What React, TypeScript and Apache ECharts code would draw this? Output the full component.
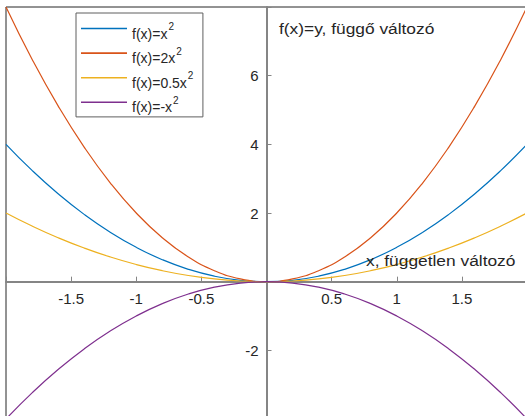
import React, { useEffect, useRef } from "react";
import * as echarts from "echarts";

const xValues = [-2, -1.8, -1.6, -1.4, -1.2, -1, -0.8, -0.6, -0.4, -0.2, 0, 0.2, 0.4, 0.6, 0.8, 1, 1.2, 1.4, 1.6, 1.8, 2];
const ySquare = [4, 3.24, 2.56, 1.96, 1.44, 1, 0.64, 0.36, 0.16, 0.04, 0, 0.04, 0.16, 0.36, 0.64, 1, 1.44, 1.96, 2.56, 3.24, 4];
const yDouble = [8, 6.48, 5.12, 3.92, 2.88, 2, 1.28, 0.72, 0.32, 0.08, 0, 0.08, 0.32, 0.72, 1.28, 2, 2.88, 3.92, 5.12, 6.48, 8];
const yHalf = [2, 1.62, 1.28, 0.98, 0.72, 0.5, 0.32, 0.18, 0.08, 0.02, 0, 0.02, 0.08, 0.18, 0.32, 0.5, 0.72, 0.98, 1.28, 1.62, 2];
const yNeg = [-4, -3.24, -2.56, -1.96, -1.44, -1, -0.64, -0.36, -0.16, -0.04, 0, -0.04, -0.16, -0.36, -0.64, -1, -1.44, -1.96, -2.56, -3.24, -4];

const seriesNames = ["f(x)=x^2", "f(x)=2x^2", "f(x)=0.5x^2", "f(x)=-x^2"];
const seriesColors = ["#0072BD", "#D95319", "#EDB120", "#7E2F8E"];
const seriesValues = [ySquare, yDouble, yHalf, yNeg];

const xTicks = [-1.5, -1, -0.5, 0.5, 1, 1.5];
const yTicks = [-2, 2, 4, 6];

const yLabelText = "f(x)=y, függő változó";
const xLabelText = "x, független változó";

const FONT = "'Liberation Sans', Arial, Helvetica, sans-serif";
const TEXT = "#262626";
const AXIS = "#858585";

export default function App() {
  const ref = useRef<HTMLDivElement>(null);

  useEffect(() => {
    if (!ref.current) return;
    const chart = echarts.init(ref.current, undefined, { renderer: "svg" });

    const option: any = {
      animation: false,
      backgroundColor: "#ffffff",
      grid: {
        left: 6,
        top: 7,
        width: 521,
        height: 412,
        show: true,
        borderColor: "#262626",
        borderWidth: 1,
        backgroundColor: "transparent",
        containLabel: false,
        outerBoundsMode: "none",
      },
      xAxis: {
        type: "value",
        min: -2,
        max: 2,
        interval: 0.5,
        position: "bottom",
        axisLine: { onZero: false, lineStyle: { color: AXIS, width: 2 } },
        axisTick: { show: true, inside: true, length: 5, lineStyle: { color: AXIS, width: 1 } },
        axisLabel: {
          margin: 9,
          color: TEXT,
          fontSize: 15,
          fontFamily: FONT,
          formatter: (v: number) => (xTicks.includes(v) ? String(v) : ""),
        },
        splitLine: { show: false },
      },
      yAxis: {
        type: "value",
        min: -4,
        max: 8,
        interval: 2,
        position: "left",
        axisLine: { onZero: false, lineStyle: { color: AXIS, width: 2 } },
        axisTick: { show: true, inside: true, length: 5, lineStyle: { color: AXIS, width: 1 } },
        axisLabel: {
          margin: 8,
          color: TEXT,
          fontSize: 15,
          fontFamily: FONT,
          formatter: (v: number) => (yTicks.includes(v) ? String(v) : ""),
        },
        splitLine: { show: false },
      },
      legend: {
        orient: "vertical",
        left: 76,
        top: 13,
        padding: [3.5, 9.5, 2.6, 5],
        itemGap: 0.6,
        itemWidth: 46,
        itemHeight: 1.6,
        icon: "rect",
        backgroundColor: "#ffffff",
        borderColor: "#5f5f5f",
        borderWidth: 1,
        data: seriesNames,
        formatter: (name: string) => {
          const parts = name.split("^");
          return `{a|${parts[0]}}{s|${parts[1]}}`;
        },
        textStyle: {
          color: TEXT,
          fontFamily: FONT,
          fontSize: 14,
          rich: {
            a: { fontSize: 14, fontFamily: FONT, color: TEXT, lineHeight: 14, padding: [10, 0, 0, 0] },
            s: { fontSize: 10, fontFamily: FONT, color: TEXT, lineHeight: 14, padding: [0, 0, 4, 1] },
          },
        },
      },
      graphic: [
        {
          type: "text",
          x: 279,
          y: 28,
          scaleX: 1.12,
          z: 10,
          style: {
            text: yLabelText,
            font: `15.5px ${FONT}`,
            fill: TEXT,
            align: "left",
            verticalAlign: "middle",
          },
        },
        {
          type: "text",
          x: 366,
          y: 260,
          scaleX: 1.12,
          z: 10,
          style: {
            text: xLabelText,
            font: `15.5px ${FONT}`,
            fill: TEXT,
            align: "left",
            verticalAlign: "middle",
          },
        },
      ],
      series: seriesNames.map((name, i) => ({
        name,
        type: "line",
        symbol: "none",
        smooth: true,
        color: seriesColors[i],
        lineStyle: { color: seriesColors[i], width: 1.2 },
        data: xValues.map((x, j) => [x, seriesValues[i][j]]),
      })),
    };

    chart.setOption(option);

    // Move both axes onto the origin, using the chart's own coordinate system.
    const origin = chart.convertToPixel({ gridIndex: 0 }, [0, 0]) as number[];
    const corner = chart.convertToPixel({ gridIndex: 0 }, [-2, -4]) as number[];
    chart.setOption({
      xAxis: { offset: origin[1] - corner[1] },
      yAxis: { offset: corner[0] - origin[0] },
    });

    return () => chart.dispose();
  }, []);

  return (
    <div
      ref={ref}
      style={{ position: "absolute", left: 0, top: 0, width: 525, height: 416 }}
    />
  );
}
